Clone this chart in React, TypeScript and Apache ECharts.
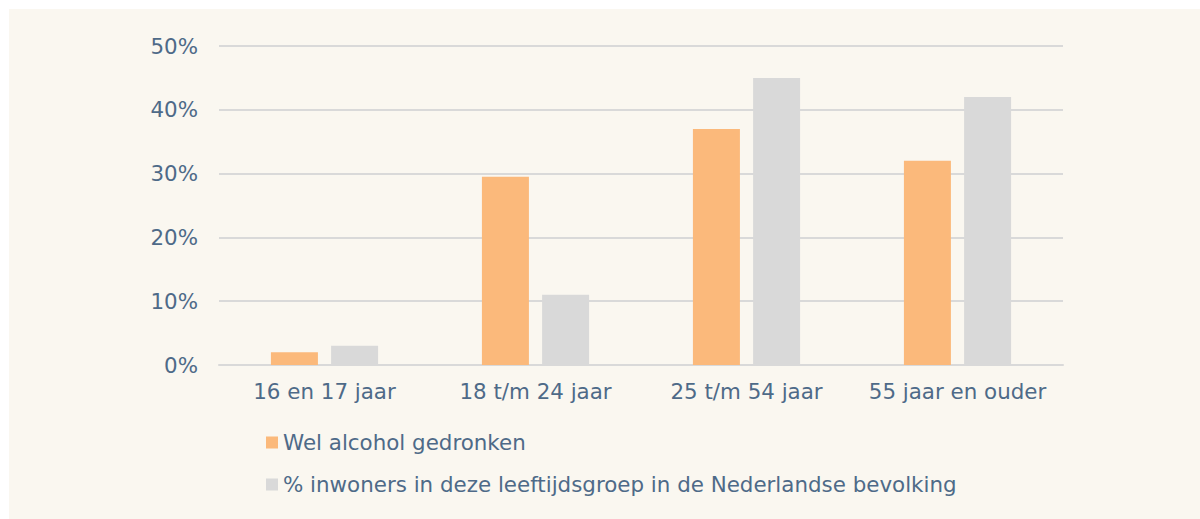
import React, { useEffect, useRef } from "react";
import * as echarts from "echarts";

const categories = ["16 en 17 jaar", "18 t/m 24 jaar", "25 t/m 54 jaar", "55 jaar en ouder"];
const alcoholValues = [2, 29.5, 37, 32];
const populationValues = [3, 11, 45, 42];
const seriesNames = ["Wel alcohol gedronken", "% inwoners in deze leeftijdsgroep in de Nederlandse bevolking"];

const TEXT = "#4e6a88";
const FONT = "DejaVu Sans";
const FS = 21.4;

export default function App() {
  const ref = useRef<HTMLDivElement>(null);
  useEffect(() => {
    if (!ref.current) return;
    const chart = echarts.init(ref.current, undefined, { renderer: "svg" });
    chart.setOption({
      animation: false,
      backgroundColor: "#faf7f0",
      textStyle: { fontFamily: FONT },
      grid: { left: 210, right: 137, top: 37, bottom: 154 },
      legend: {
        orient: "vertical",
        left: 252,
        top: 418,
        itemWidth: 12,
        itemHeight: 12,
        itemGap: 21,
        icon: "rect",
        textStyle: { color: TEXT, fontSize: FS, fontFamily: FONT, lineHeight: 21 },
        data: seriesNames,
      },
      xAxis: {
        type: "category",
        data: categories,
        axisLine: { show: true, lineStyle: { color: "#d9d9d9", width: 2 } },
        axisTick: { show: false },
        axisLabel: { color: TEXT, fontSize: FS, fontFamily: FONT, margin: 16, interval: 0 },
      },
      yAxis: {
        type: "value",
        min: 0,
        max: 50,
        interval: 10,
        axisLine: { show: false },
        axisTick: { show: false },
        axisLabel: { color: TEXT, fontSize: FS, fontFamily: FONT, margin: 21, formatter: "{value}%" },
        splitLine: { lineStyle: { color: "#d9d9d9", width: 2 } },
      },
      series: [
        {
          name: seriesNames[0],
          type: "bar",
          data: alcoholValues,
          barWidth: 47,
          barGap: "28%",
          itemStyle: { color: "#fbb97b" },
        },
        {
          name: seriesNames[1],
          type: "bar",
          data: populationValues,
          barWidth: 47,
          itemStyle: { color: "#d9d9d9" },
        },
      ],
    });
    return () => chart.dispose();
  }, []);
  return (
    <div style={{ position: "fixed", left: 9, top: 9, right: 0, bottom: 0 }}>
      <div ref={ref} style={{ width: 1191, height: 510 }} />
    </div>
  );
}
